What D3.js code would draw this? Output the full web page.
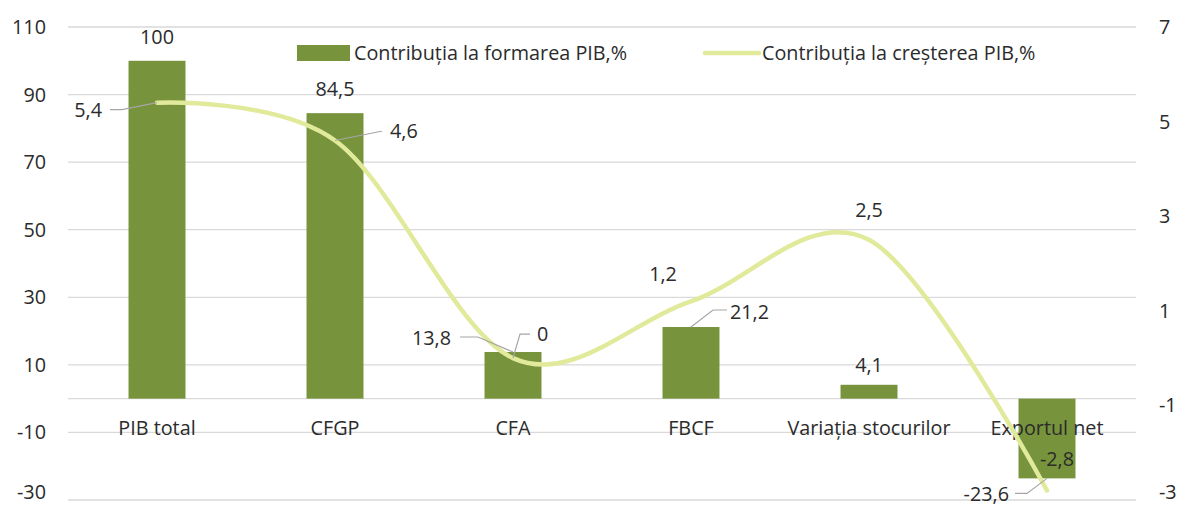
<!DOCTYPE html>
<html>
<head>
<meta charset="utf-8">
<script src="https://cdn.jsdelivr.net/npm/d3@7"></script>
<style>
  body { margin: 0; background: #fff; }
  svg text { font-family: "Open Sans", "Noto Sans", sans-serif; fill: #2b2b2b; }
</style>
</head>
<body>
<div id="chart"></div>
<script>
// data
var categories = ["PIB total", "CFGP", "CFA", "FBCF", "Variația stocurilor", "Exportul net"];
var formare = [100, 84.5, 13.8, 21.2, 4.1, -23.6];
var crestere = [5.4, 4.6, 0, 1.2, 2.5, -2.8];
var leftTicks = [-30, -10, 10, 30, 50, 70, 90, 110];
var rightTicks = [-3, -1, 1, 3, 5, 7];
var seriesNames = ["Contribuția la formarea PIB,%", "Contribuția la creșterea PIB,%"];

var fmt = function(v) { return String(v).replace(".", ","); };
var FS = 19.8;

function main() {
    var W = 1181, H = 506;
    var plot = { left: 68, right: 1136, top: 27, bottom: 500 };

    var svg = d3.select("#chart").append("svg")
        .attr("width", W).attr("height", H);

    var x = d3.scaleBand().domain(categories).range([plot.left, plot.right]).padding(0);
    var cx = function(c) { return x(c) + x.bandwidth() / 2; };
    var yL = d3.scaleLinear().domain([-30, 110]).range([plot.bottom, plot.top]);
    var yR = d3.scaleLinear().domain([-3, 7]).range([plot.bottom, plot.top]);

    // gridlines
    svg.append("g").selectAll("line").data(leftTicks.concat([0])).enter().append("line")
        .attr("x1", plot.left).attr("x2", plot.right)
        .attr("y1", d => yL(d)).attr("y2", d => yL(d))
        .attr("stroke", "#d9d9d9").attr("stroke-width", 1.3);

    // left axis labels (bottom one nudged up so it stays inside the page)
    svg.append("g").selectAll("text").data(leftTicks).enter().append("text")
        .attr("x", 46).attr("y", d => Math.min(yL(d), 492)).attr("dy", "0.35em")
        .attr("text-anchor", "end").attr("font-size", FS).text(d => d);

    // right axis labels
    svg.append("g").selectAll("text").data(rightTicks).enter().append("text")
        .attr("x", 1159).attr("y", d => Math.min(yR(d), 492)).attr("dy", "0.35em")
        .attr("text-anchor", "start").attr("font-size", FS).text(d => d);

    // bars
    var bw = x.bandwidth() * 0.32;
    svg.append("g").selectAll("rect").data(formare).enter().append("rect")
        .attr("x", (d, i) => cx(categories[i]) - bw / 2)
        .attr("width", bw)
        .attr("y", d => yL(Math.max(d, 0)))
        .attr("height", d => Math.abs(yL(d) - yL(0)))
        .attr("fill", "#77933c");

    // category labels
    svg.append("g").selectAll("text").data(categories).enter().append("text")
        .attr("x", d => cx(d)).attr("y", 428).attr("dy", "0.35em")
        .attr("text-anchor", "middle").attr("font-size", FS).text(d => d);

    // smooth line
    var line = d3.line()
        .x((d, i) => cx(categories[i]))
        .y(d => yR(d))
        .curve(d3.curveCatmullRom.alpha(0));
    svg.append("path").datum(crestere)
        .attr("d", line)
        .attr("fill", "none")
        .attr("stroke", "#e1ea9b")
        .attr("stroke-width", 4.5)
        .attr("stroke-linecap", "round");

    // label placement: offsets from the anchor point (style, not data)
    var barLabelPos = [
        { dx: 0, dy: -24, anchor: "middle" },
        { dx: 0, dy: -24, anchor: "middle" },
        { dx: -62, dy: -14, anchor: "end", leader: [[-53, -15], [-35, -15], [0, 0]] },
        { dx: 39, dy: -15, anchor: "start", leader: [[36, -17], [22, -17], [0, 0]] },
        { dx: 0, dy: -20, anchor: "middle" },
        { dx: -38, dy: 16, anchor: "end", leader: [[-32, 15], [-20, 15], [0, 0]] }
    ];
    var lineLabelPos = [
        { dx: -55, dy: 7, anchor: "end", leader: [[-47, 7], [-35, 7], [0, 0]] },
        { dx: 55, dy: -9, anchor: "start", leader: [[47, -9], [45, -9], [0, 0]] },
        { dx: 24, dy: -24, anchor: "start", leader: [[17, -24], [7, -24], [0, 0]] },
        { dx: -28, dy: -27, anchor: "middle" },
        { dx: 0, dy: -30, anchor: "middle" },
        { dx: 10, dy: -31, anchor: "middle" }
    ];

    var labels = svg.append("g");
    var leaderLine = d3.line();

    function addLabels(values, pos, yScale) {
        values.forEach(function(v, i) {
            var p = pos[i];
            var ax = cx(categories[i]), ay = yScale(v);
            if (p.leader) {
                labels.append("path")
                    .attr("d", leaderLine(p.leader.map(q => [ax + q[0], ay + q[1]])))
                    .attr("fill", "none").attr("stroke", "#a6a6a6").attr("stroke-width", 1.2);
            }
            labels.append("text")
                .attr("x", ax + p.dx).attr("y", ay + p.dy).attr("dy", "0.35em")
                .attr("text-anchor", p.anchor).attr("font-size", FS).text(fmt(v));
        });
    }
    addLabels(formare, barLabelPos, yL);
    addLabels(crestere, lineLabelPos, yR);

    // legend
    var lg = svg.append("g");
    lg.append("rect").attr("x", 297).attr("y", 45).attr("width", 53).attr("height", 16).attr("fill", "#77933c");
    lg.append("text").attr("x", 354).attr("y", 53).attr("dy", "0.35em")
        .attr("font-size", FS).text(seriesNames[0]);
    lg.append("line").attr("x1", 705).attr("x2", 759).attr("y1", 53).attr("y2", 53)
        .attr("stroke", "#e1ea9b").attr("stroke-width", 4.5).attr("stroke-linecap", "round");
    lg.append("text").attr("x", 762).attr("y", 53).attr("dy", "0.35em")
        .attr("font-size", FS).text(seriesNames[1]);
}

main();
</script>
</body>
</html>
